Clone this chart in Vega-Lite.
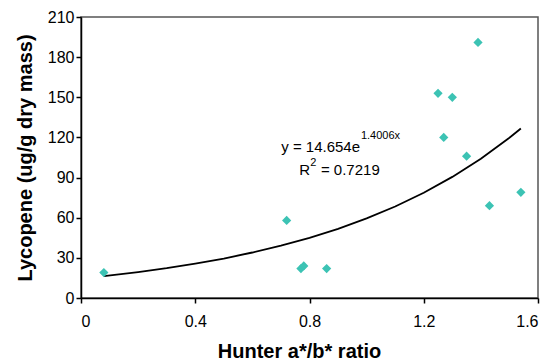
{
  "$schema": "https://vega.github.io/schema/vega-lite/v6.json",
  "autosize": {"type": "none"},
  "padding": {"left": 81, "top": 17, "right": 20, "bottom": 65},
  "width": 457,
  "height": 281,
  "background": "white",
  "config": {
    "view": {"stroke": "#555555", "strokeWidth": 1.5},
    "font": "Liberation Sans",
    "axis": {
      "grid": false,
      "domainColor": "black",
      "domainWidth": 1.5,
      "tickColor": "black",
      "tickWidth": 1.5,
      "tickSize": 5,
      "labelFont": "Liberation Sans",
      "labelFontSize": 16,
      "labelColor": "black",
      "titleFont": "Liberation Sans",
      "titleFontSize": 20,
      "titleFontWeight": "bold",
      "titleColor": "black"
    }
  },
  "datasets": {
    "pts": [
      {"ratio": 0.08, "lyc": 19},
      {"ratio": 0.72, "lyc": 58},
      {"ratio": 0.77, "lyc": 22},
      {"ratio": 0.78, "lyc": 24},
      {"ratio": 0.86, "lyc": 22},
      {"ratio": 1.25, "lyc": 153},
      {"ratio": 1.27, "lyc": 120},
      {"ratio": 1.30, "lyc": 150},
      {"ratio": 1.35, "lyc": 106},
      {"ratio": 1.39, "lyc": 191},
      {"ratio": 1.43, "lyc": 69},
      {"ratio": 1.54, "lyc": 79}
    ],
    "trend": [
      {"ratio": 0.08, "lyc": 16.4},
      {"ratio": 0.2, "lyc": 19.4},
      {"ratio": 0.3, "lyc": 22.3},
      {"ratio": 0.4, "lyc": 25.7},
      {"ratio": 0.5, "lyc": 29.5},
      {"ratio": 0.6, "lyc": 34.0},
      {"ratio": 0.7, "lyc": 39.1},
      {"ratio": 0.8, "lyc": 44.9},
      {"ratio": 0.9, "lyc": 51.7},
      {"ratio": 1.0, "lyc": 59.5},
      {"ratio": 1.1, "lyc": 68.4},
      {"ratio": 1.2, "lyc": 78.7},
      {"ratio": 1.3, "lyc": 90.5},
      {"ratio": 1.4, "lyc": 104.1},
      {"ratio": 1.5, "lyc": 119.8},
      {"ratio": 1.54, "lyc": 126.7}
    ]
  },
  "layer": [
    {
      "data": {"name": "trend"},
      "mark": {"type": "line", "color": "black", "strokeWidth": 1.8},
      "encoding": {
        "x": {
          "field": "ratio", "type": "quantitative",
          "scale": {"domain": [0, 1.6], "nice": false, "zero": false},
          "axis": {"values": [0, 0.4, 0.8, 1.2, 1.6], "format": "~g", "title": "Hunter a*/b* ratio", "labelPadding": 10, "titlePadding": 12, "titleX": 218}
        },
        "y": {
          "field": "lyc", "type": "quantitative",
          "scale": {"domain": [0, 210], "nice": false},
          "axis": {"values": [0, 30, 60, 90, 120, 150, 180, 210], "title": "Lycopene (ug/g dry mass)", "labelPadding": 2, "titlePadding": 12}
        }
      }
    },
    {
      "data": {"name": "pts"},
      "mark": {"type": "point", "shape": "diamond", "filled": true, "color": "#3CC3B4", "opacity": 1, "size": 85},
      "encoding": {
        "x": {"field": "ratio", "type": "quantitative"},
        "y": {"field": "lyc", "type": "quantitative"}
      }
    },
    {
      "data": {"values": [
        {"x": 0.977, "y": 112.7, "t": "y = 14.654e"},
        {"x": 0.802, "y": 96, "t": "R"}
      ]},
      "mark": {"type": "text", "align": "right", "baseline": "middle", "fontSize": 15, "font": "Liberation Sans", "color": "black"},
      "encoding": {
        "x": {"field": "x", "type": "quantitative"},
        "y": {"field": "y", "type": "quantitative"},
        "text": {"field": "t"}
      }
    },
    {
      "data": {"values": [
        {"x": 0.980, "y": 121, "t": "1.4006x"},
        {"x": 0.803, "y": 101, "t": "2"}
      ]},
      "mark": {"type": "text", "align": "left", "baseline": "middle", "fontSize": 11, "font": "Liberation Sans", "color": "black"},
      "encoding": {
        "x": {"field": "x", "type": "quantitative"},
        "y": {"field": "y", "type": "quantitative"},
        "text": {"field": "t"}
      }
    },
    {
      "data": {"values": [
        {"x": 0.840, "y": 96, "t": "= 0.7219"}
      ]},
      "mark": {"type": "text", "align": "left", "baseline": "middle", "fontSize": 15, "font": "Liberation Sans", "color": "black"},
      "encoding": {
        "x": {"field": "x", "type": "quantitative"},
        "y": {"field": "y", "type": "quantitative"},
        "text": {"field": "t"}
      }
    }
  ]
}
